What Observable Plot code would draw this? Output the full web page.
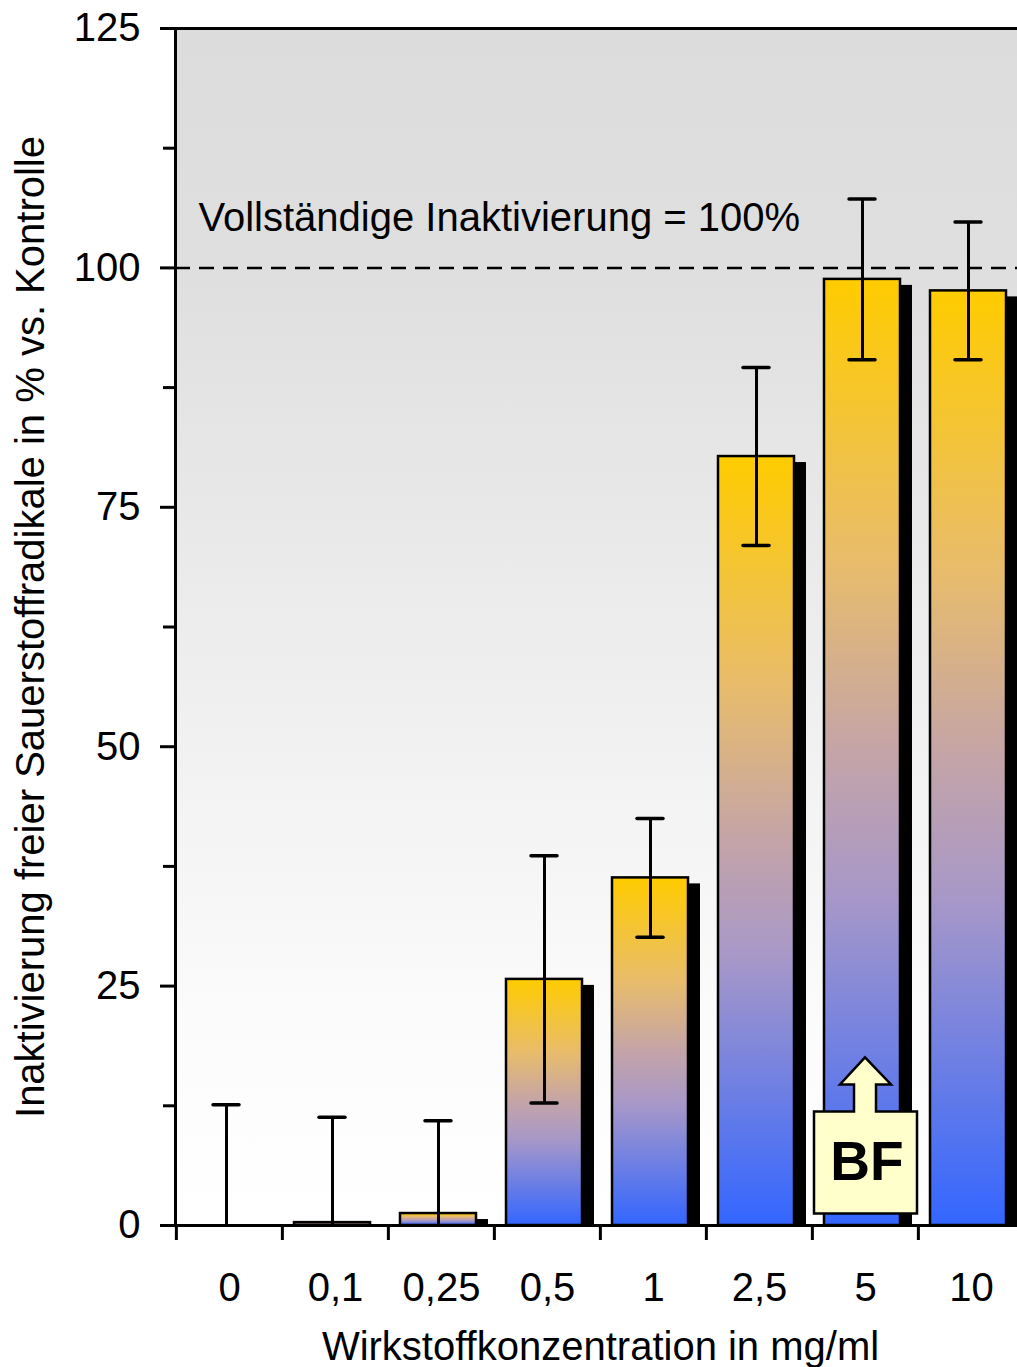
<!DOCTYPE html>
<html>
<head>
<meta charset="utf-8">
<script src="https://cdn.jsdelivr.net/npm/d3@7"></script>
<script src="https://cdn.jsdelivr.net/npm/@observablehq/plot@0.6"></script>
<style>
  html, body { margin: 0; padding: 0; background: #fff; overflow: hidden; }
  #chart { width: 1017px; height: 1367px; overflow: hidden; }
  #chart svg { display: block; max-width: none !important; width: 1030px !important; height: 1367px !important; }
</style>
</head>
<body>
<div id="chart"></div>
<script>
// Data
const categories = ["0", "0,1", "0,25", "0,5", "1", "2,5", "5", "10"];
const values     = [0, 0.3, 1.25, 25.7, 36.3, 80.3, 98.8, 97.6];
const errors     = [12.6, 11.0, 9.7, 12.9, 6.2, 9.3, 8.4, 7.2];
const majorTicks = [0, 25, 50, 75, 100, 125];
const minorTicks = [12.5, 37.5, 62.5, 87.5, 112.5];
const referenceLine = [100];
const referenceLabel = "Vollständige Inaktivierung = 100%";
const callout = {category: "5", value: 17.5, label: "BF"};
const yLabel = "Inaktivierung freier Sauerstoffradikale in % vs. Kontrolle";
const xLabel = "Wirkstoffkonzentration in mg/ml";

const data = categories.map((c, i) => ({
  c, v: values[i], lo: values[i] - errors[i], hi: values[i] + errors[i]
}));

const W = 1030, H = 1367, ML = 175, MR = 5, MT = 28, MB = 142;
const bw = (W - ML - MR) / categories.length;
const FONT = "'Liberation Sans', Arial, sans-serif";

const plot = Plot.plot({
  width: W, height: H,
  marginLeft: ML, marginRight: MR, marginTop: MT, marginBottom: MB,
  style: {fontFamily: FONT, background: "transparent", maxWidth: "none"},
  x: {type: "band", domain: categories, padding: 0},
  y: {domain: [0, 125]},
  marks: [
    Plot.frame({fill: "url(#bgGrad)"}),
    Plot.ruleY(referenceLine, {stroke: "black", strokeWidth: 2.5, strokeDasharray: "15,9"}),
    Plot.text([{t: referenceLabel, y: referenceLine[0]}], {
      y: "y", text: "t", frameAnchor: "left", textAnchor: "start",
      dx: 23, dy: -50, fontSize: 40, fill: "black", lineAnchor: "middle"
    }),
    // drop shadow
    Plot.barY(data, {x: "c", y: "v", fill: "black", insetLeft: 24, insetRight: 6, insetTop: 6}),
    // bars
    Plot.barY(data, {x: "c", y: "v", fill: "url(#barGrad)", stroke: "black", strokeWidth: 2.5,
      insetLeft: 12, insetRight: 18}),
    // error bars
    Plot.ruleX(data, {x: "c", y1: d => Math.max(0, d.lo), y2: "hi", stroke: "black", strokeWidth: 3, dx: -3}),
    Plot.tickY(data, {x: "c", y: "hi", stroke: "black", strokeWidth: 3.5, insetLeft: 37, insetRight: 43, strokeLinecap: "round"}),
    Plot.tickY(data.filter(d => d.lo > 0), {x: "c", y: "lo", stroke: "black", strokeWidth: 3.5, insetLeft: 37, insetRight: 43, strokeLinecap: "round"}),
    // axes
    Plot.axisY({ticks: minorTicks, tickSize: 12, tickFormat: () => "", strokeWidth: 3, label: null}),
    Plot.axisY({ticks: majorTicks, tickSize: 15, tickPadding: 20, fontSize: 39, strokeWidth: 3,
      label: yLabel, labelAnchor: "center", labelArrow: "none", labelOffset: 160, fontSize: 40}),
    Plot.axisX({tickSize: 15, dx: -bw / 2, tickFormat: () => "", strokeWidth: 3, label: null}),
    Plot.axisX({tickSize: 0, tickPadding: 47, fontSize: 40,
      label: xLabel, labelAnchor: "center", labelArrow: "none", labelOffset: 134}),
    Plot.frame({stroke: "black", strokeWidth: 3})
  ]
});

// gradients
const svg = d3.select(plot);
const defs = svg.insert("defs", ":first-child");
const bg = defs.append("linearGradient").attr("id", "bgGrad").attr("x1", 0).attr("y1", 0).attr("x2", 0).attr("y2", 1);
[[0, "#dcdcdc"], [0.2, "#dfdfdf"], [0.55, "#efefef"], [0.85, "#fcfcfc"], [1, "#ffffff"]]
  .forEach(([o, c]) => bg.append("stop").attr("offset", o).attr("stop-color", c));
const bar = defs.append("linearGradient").attr("id", "barGrad").attr("x1", 0).attr("y1", 0).attr("x2", 0).attr("y2", 1);
[[0, "#ffcc00"], [0.3, "#e8bc6c"], [0.5, "#c4a4a8"], [0.65, "#a898c8"], [1, "#3366ff"]]
  .forEach(([o, c]) => bar.append("stop").attr("offset", o).attr("stop-color", c));

// BF callout anchored at category "5"
const xs = plot.scale("x"), ys = plot.scale("y");
const cx = xs.apply(callout.category) + xs.bandwidth / 2;
const cy = ys.apply(callout.value);
const g = svg.append("g").attr("transform", `translate(${cx},${cy})`);
g.append("path")
  .attr("d", "M0,0 L26,27 L11,27 L11,54 L52,54 L52,156 L-51,156 L-51,54 L-11,54 L-11,27 L-25,27 Z")
  .attr("fill", "#ffffcc").attr("stroke", "black").attr("stroke-width", 2.5).attr("stroke-linejoin", "miter");
g.append("text").attr("x", 2).attr("y", 123).attr("text-anchor", "middle")
  .attr("font-family", FONT).attr("font-weight", "bold").attr("font-size", 55).text(callout.label);

document.getElementById("chart").appendChild(plot);
</script>
</body>
</html>
